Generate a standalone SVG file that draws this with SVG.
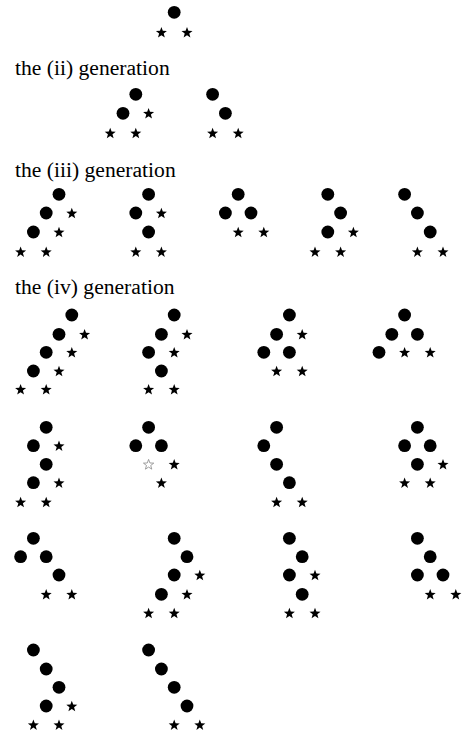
<svg xmlns="http://www.w3.org/2000/svg" xmlns:xlink="http://www.w3.org/1999/xlink" width="476" height="733" viewBox="0 0 476 733">
<style>
.lbl{font-family:"Liberation Serif","Times New Roman",serif;font-size:21.6px;fill:#000}
.n{fill:#000}
.st{fill:#000}
.ho{fill:#fff;stroke:#888;stroke-width:0.8}
</style>
<defs>
<circle id="c" class="n" r="6.4"/>
<polygon id="s" class="st" points="0,-5.8 1.411,-1.942 5.516,-1.792 2.283,0.742 3.409,4.692 0,2.4 -3.409,4.692 -2.283,0.742 -5.516,-1.792 -1.411,-1.942"/>
<polygon id="h" class="ho" points="0,-5.4 1.32,-1.82 5.14,-1.67 2.13,0.69 3.18,4.37 0,2.25 -3.18,4.37 -2.13,0.69 -5.14,-1.67 -1.32,-1.82"/>
</defs>
<rect width="476" height="733" fill="#fff"/>
<g id="labels">
<text class="lbl" x="15" y="75">the (ii) generation</text>
<text class="lbl" x="15" y="177">the (iii) generation</text>
<text class="lbl" x="15" y="294">the (iv) generation</text>
</g>
<g id="connectors"/>
<!-- generation i -->
<g id="g1-t1">
<use href="#c" x="174.2" y="12.3"/>
<use href="#s" x="161.4" y="32.8"/><use href="#s" x="187" y="32.8"/>
</g>
<!-- generation ii -->
<g id="g2-t1">
<use href="#c" x="135.8" y="94.3"/><use href="#c" x="123" y="113.3"/>
<use href="#s" x="148.6" y="113.8"/><use href="#s" x="110.2" y="133.5"/><use href="#s" x="135.8" y="133.5"/>
</g>
<g id="g2-t2">
<use href="#c" x="212.6" y="94.3"/><use href="#c" x="225.4" y="113.3"/>
<use href="#s" x="212.6" y="133.5"/><use href="#s" x="238.2" y="133.5"/>
</g>
<!-- generation iii -->
<g id="g3-t1">
<use href="#c" x="59" y="194.3"/><use href="#c" x="46.2" y="213"/><use href="#c" x="33.4" y="232"/>
<use href="#s" x="71.8" y="213.5"/><use href="#s" x="59" y="232.5"/><use href="#s" x="20.6" y="252.2"/><use href="#s" x="46.2" y="252.2"/>
</g>
<g id="g3-t2">
<use href="#c" x="148.6" y="194.3"/><use href="#c" x="135.8" y="213"/><use href="#c" x="148.6" y="232"/>
<use href="#s" x="161.4" y="213.5"/><use href="#s" x="135.8" y="252.2"/><use href="#s" x="161.4" y="252.2"/>
</g>
<g id="g3-t3">
<use href="#c" x="238.2" y="194.3"/><use href="#c" x="225.4" y="213"/><use href="#c" x="251" y="213"/>
<use href="#s" x="238.2" y="232.5"/><use href="#s" x="263.8" y="232.5"/>
</g>
<g id="g3-t4">
<use href="#c" x="327.8" y="194.3"/><use href="#c" x="340.6" y="213"/><use href="#c" x="327.8" y="232"/>
<use href="#s" x="353.4" y="232.5"/><use href="#s" x="315" y="252.2"/><use href="#s" x="340.6" y="252.2"/>
</g>
<g id="g3-t5">
<use href="#c" x="404.6" y="194.3"/><use href="#c" x="417.4" y="213"/><use href="#c" x="430.2" y="232"/>
<use href="#s" x="417.4" y="252.2"/><use href="#s" x="443" y="252.2"/>
</g>
<!-- generation iv, row 1 -->
<g id="g4-t1">
<use href="#c" x="71.8" y="315"/><use href="#c" x="59" y="334.3"/><use href="#c" x="46.2" y="352.3"/><use href="#c" x="33.4" y="371"/>
<use href="#s" x="84.6" y="334.8"/><use href="#s" x="71.8" y="352.8"/><use href="#s" x="59" y="371.5"/><use href="#s" x="20.6" y="389.8"/><use href="#s" x="46.2" y="389.8"/>
</g>
<g id="g4-t2">
<use href="#c" x="174.2" y="315"/><use href="#c" x="161.4" y="334.3"/><use href="#c" x="148.6" y="352.3"/><use href="#c" x="161.4" y="371"/>
<use href="#s" x="187" y="334.8"/><use href="#s" x="174.2" y="352.8"/><use href="#s" x="148.6" y="389.8"/><use href="#s" x="174.2" y="389.8"/>
</g>
<g id="g4-t3">
<use href="#c" x="289.4" y="315"/><use href="#c" x="276.6" y="334.3"/><use href="#c" x="263.8" y="352.3"/><use href="#c" x="289.4" y="352.3"/>
<use href="#s" x="302.2" y="334.8"/><use href="#s" x="276.6" y="371.5"/><use href="#s" x="302.2" y="371.5"/>
</g>
<g id="g4-t4">
<use href="#c" x="404.6" y="315"/><use href="#c" x="391.8" y="334.3"/><use href="#c" x="417.4" y="334.3"/><use href="#c" x="379" y="352.3"/>
<use href="#s" x="404.6" y="352.8"/><use href="#s" x="430.2" y="352.8"/>
</g>
<!-- generation iv, row 2 -->
<g id="g4-t5">
<use href="#c" x="46.2" y="427.3"/><use href="#c" x="33.4" y="445.7"/><use href="#c" x="46.2" y="464.3"/><use href="#c" x="33.4" y="482.7"/>
<use href="#s" x="59" y="446.2"/><use href="#s" x="59" y="483.2"/><use href="#s" x="20.6" y="502.5"/><use href="#s" x="46.2" y="502.5"/>
</g>
<g id="g4-t6">
<use href="#c" x="148.6" y="427.3"/><use href="#c" x="135.8" y="445.7"/><use href="#c" x="161.4" y="445.7"/>
<use href="#h" x="148.6" y="464.8"/><use href="#s" x="174.2" y="464.8"/><use href="#s" x="161.4" y="483.2"/>
</g>
<g id="g4-t7">
<use href="#c" x="276.6" y="427.3"/><use href="#c" x="263.8" y="445.7"/><use href="#c" x="276.6" y="464.3"/><use href="#c" x="289.4" y="482.7"/>
<use href="#s" x="276.6" y="502.5"/><use href="#s" x="302.2" y="502.5"/>
</g>
<g id="g4-t8">
<use href="#c" x="417.4" y="427.3"/><use href="#c" x="404.6" y="445.7"/><use href="#c" x="430.2" y="445.7"/><use href="#c" x="417.4" y="464.3"/>
<use href="#s" x="443" y="464.8"/><use href="#s" x="404.6" y="483.2"/><use href="#s" x="430.2" y="483.2"/>
</g>
<!-- generation iv, row 3 -->
<g id="g4-t9">
<use href="#c" x="33.4" y="538.3"/><use href="#c" x="20.6" y="556.7"/><use href="#c" x="46.2" y="556.7"/><use href="#c" x="59" y="575"/>
<use href="#s" x="46.2" y="594.8"/><use href="#s" x="71.8" y="594.8"/>
</g>
<g id="g4-t10">
<use href="#c" x="174.2" y="538.3"/><use href="#c" x="187" y="556.7"/><use href="#c" x="174.2" y="575"/><use href="#c" x="161.4" y="594.3"/>
<use href="#s" x="199.8" y="575.5"/><use href="#s" x="187" y="594.8"/><use href="#s" x="148.6" y="613.5"/><use href="#s" x="174.2" y="613.5"/>
</g>
<g id="g4-t11">
<use href="#c" x="289.4" y="538.3"/><use href="#c" x="302.2" y="556.7"/><use href="#c" x="289.4" y="575"/><use href="#c" x="302.2" y="594.3"/>
<use href="#s" x="315" y="575.5"/><use href="#s" x="289.4" y="613.5"/><use href="#s" x="315" y="613.5"/>
</g>
<g id="g4-t12">
<use href="#c" x="417.4" y="538.3"/><use href="#c" x="430.2" y="556.7"/><use href="#c" x="417.4" y="575"/><use href="#c" x="443" y="575"/>
<use href="#s" x="430.2" y="594.8"/><use href="#s" x="455.8" y="594.8"/>
</g>
<!-- generation iv, row 4 -->
<g id="g4-t13">
<use href="#c" x="33.4" y="650"/><use href="#c" x="46.2" y="669"/><use href="#c" x="59" y="687.3"/><use href="#c" x="46.2" y="706"/>
<use href="#s" x="71.8" y="706.5"/><use href="#s" x="33.4" y="725.2"/><use href="#s" x="59" y="725.2"/>
</g>
<g id="g4-t14">
<use href="#c" x="148.6" y="650"/><use href="#c" x="161.4" y="669"/><use href="#c" x="174.2" y="687.3"/><use href="#c" x="187" y="706"/>
<use href="#s" x="174.2" y="725.2"/><use href="#s" x="199.8" y="725.2"/>
</g>
</svg>
